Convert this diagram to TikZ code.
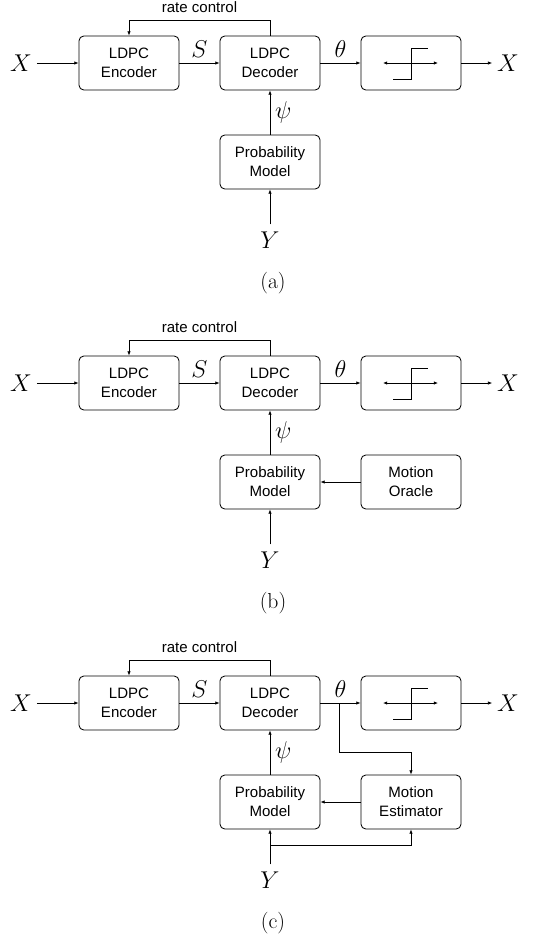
\documentclass[tikz,border=0pt]{standalone}
\usepackage{fontspec}
\newfontfamily\blockfont{Liberation Sans}
\usetikzlibrary{arrows.meta, calc}

\tikzset{
  block/.style={draw, rounded corners=1.2mm, minimum width=2.5cm, minimum height=1.35cm,
    align=center, line width=0.6pt, font=\blockfont\fontsize{10.7}{13.5}\selectfont},
  sig/.style={font=\fontsize{17.28}{20}\selectfont},
  wire/.style={-{Latex[length=3pt,width=2.4pt]}, line width=0.5pt},
}

\begin{document}
\begin{tikzpicture}[x=0.25mm, y=-0.25mm]
\useasboundingbox (0,0) rectangle (560,940);
% common chain, once per panel
\foreach \p/\dy in {a/0, b/320, c/640} {
  \node[block] (enc\p) at (129,63+\dy) {LDPC\\Encoder};
  \node[block] (dec\p) at (270,63+\dy) {LDPC\\Decoder};
  \node[block] (thr\p) at (411,63+\dy) {};
  \node[block] (pm\p) at (270,162+\dy) {Probability\\Model};
  \node[sig] (X\p) at (21,63+\dy) {$X$};
  \node[sig] (Xo\p) at (508,63+\dy) {$X$};
  \node[sig, inner sep=5pt] (Y\p) at (270,240+\dy) {$Y$};
  \node[font=\fontsize{15.4}{18}\selectfont] (cap\p) at (273,283+\dy) {(\p)};
  \draw[wire] (X\p) -- (enc\p);
  \draw[wire] (enc\p) -- (dec\p) node[midway, above, sig] {$S$};
  \draw[wire] (dec\p) -- (thr\p) node[midway, above, sig] {$\theta$};
  \draw[wire] (thr\p) -- (Xo\p);
  \draw[wire] (pm\p) -- (dec\p) node[midway, right, sig] {$\psi$};
  \draw[wire] (Y\p) -- (pm\p);
  \draw[wire] (dec\p.north) -- ++(0,-15.5) -| (enc\p.north)
    node[pos=0.25, above=2pt, font=\blockfont\fontsize{10.7}{13.5}\selectfont] {rate control};
  % hard decision symbol
  \draw[{Latex[length=3pt,width=2.4pt]}-{Latex[length=3pt,width=2.4pt]}, line width=0.5pt]
    ($(thr\p)+(-28,0)$) -- ($(thr\p)+(27,0)$);
  \draw[line width=0.6pt] ($(thr\p)+(-18,16)$) -- ++(18,0) -- ++(0,-31) -- ++(17,0);
}

% (b) oracle
\node[block] (orb) at (411,482) {Motion\\Oracle};
\draw[wire] (orb) -- (pmb);

% (c) estimator
\node[block] (estc) at (411,802) {Motion\\Estimator};
\draw[wire] (estc) -- (pmc);
\coordinate (ttap) at ($(decc.east)+(19,0)$);
\draw[wire] (ttap) -- ++(0,49) -| (estc.north);
\coordinate (ytap) at ($(pmc.south)+(0,16)$);
\draw[wire] (ytap) -| (estc.south);
\end{tikzpicture}
\end{document}
